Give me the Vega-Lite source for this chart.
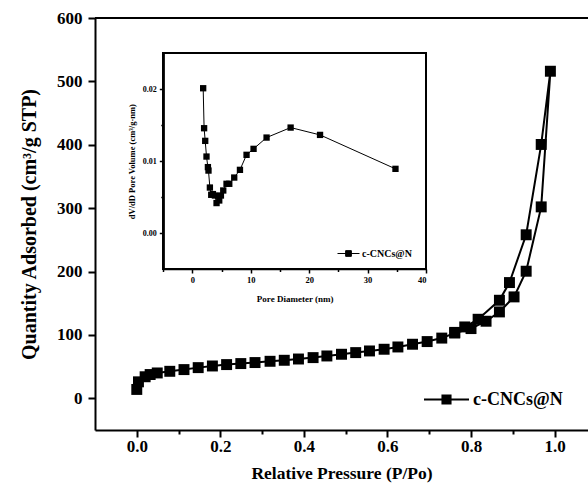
{
  "$schema": "https://vega.github.io/schema/vega-lite/v6.json",
  "width": 493,
  "height": 412,
  "autosize": "none",
  "padding": {"left": 95, "top": 18, "right": 0, "bottom": 58},
  "background": "white",
  "config": {
    "view": {"stroke": null},
    "font": "Liberation Serif",
    "axis": {"labelFont": "Liberation Serif", "titleFont": "Liberation Serif", "labelColor": "black", "titleColor": "black", "domainColor": "black", "tickColor": "black", "grid": false},
    "legend": {"labelFont": "Liberation Serif", "labelColor": "black", "labelFontWeight": "bold", "title": null, "padding": 0}
  },
  "datasets": {
    "isotherm": [
      {"p": 0.0, "q": 14, "order": 1, "sample": "c-CNCs@N"},
      {"p": 0.004, "q": 26, "order": 2, "sample": "c-CNCs@N"},
      {"p": 0.02, "q": 34, "order": 3, "sample": "c-CNCs@N"},
      {"p": 0.032, "q": 37.5, "order": 4, "sample": "c-CNCs@N"},
      {"p": 0.049, "q": 40, "order": 5, "sample": "c-CNCs@N"},
      {"p": 0.079, "q": 42.6, "order": 6, "sample": "c-CNCs@N"},
      {"p": 0.113, "q": 45.3, "order": 7, "sample": "c-CNCs@N"},
      {"p": 0.147, "q": 48.4, "order": 8, "sample": "c-CNCs@N"},
      {"p": 0.181, "q": 51, "order": 9, "sample": "c-CNCs@N"},
      {"p": 0.215, "q": 53.2, "order": 10, "sample": "c-CNCs@N"},
      {"p": 0.249, "q": 54.8, "order": 11, "sample": "c-CNCs@N"},
      {"p": 0.283, "q": 56.4, "order": 12, "sample": "c-CNCs@N"},
      {"p": 0.319, "q": 58.4, "order": 13, "sample": "c-CNCs@N"},
      {"p": 0.353, "q": 60, "order": 14, "sample": "c-CNCs@N"},
      {"p": 0.387, "q": 62, "order": 15, "sample": "c-CNCs@N"},
      {"p": 0.422, "q": 64.2, "order": 16, "sample": "c-CNCs@N"},
      {"p": 0.455, "q": 66.8, "order": 17, "sample": "c-CNCs@N"},
      {"p": 0.49, "q": 69.5, "order": 18, "sample": "c-CNCs@N"},
      {"p": 0.524, "q": 72.1, "order": 19, "sample": "c-CNCs@N"},
      {"p": 0.557, "q": 74.7, "order": 20, "sample": "c-CNCs@N"},
      {"p": 0.592, "q": 77.4, "order": 21, "sample": "c-CNCs@N"},
      {"p": 0.625, "q": 81, "order": 22, "sample": "c-CNCs@N"},
      {"p": 0.66, "q": 85.3, "order": 23, "sample": "c-CNCs@N"},
      {"p": 0.695, "q": 89.5, "order": 24, "sample": "c-CNCs@N"},
      {"p": 0.73, "q": 95, "order": 25, "sample": "c-CNCs@N"},
      {"p": 0.761, "q": 103, "order": 26, "sample": "c-CNCs@N"},
      {"p": 0.8, "q": 110, "order": 27, "sample": "c-CNCs@N"},
      {"p": 0.836, "q": 121.6, "order": 28, "sample": "c-CNCs@N"},
      {"p": 0.868, "q": 136.3, "order": 29, "sample": "c-CNCs@N"},
      {"p": 0.903, "q": 160, "order": 30, "sample": "c-CNCs@N"},
      {"p": 0.932, "q": 200.5, "order": 31, "sample": "c-CNCs@N"},
      {"p": 0.968, "q": 302, "order": 32, "sample": "c-CNCs@N"},
      {"p": 0.99, "q": 516, "order": 33, "sample": "c-CNCs@N"},
      {"p": 0.968, "q": 400.5, "order": 34, "sample": "c-CNCs@N"},
      {"p": 0.932, "q": 258, "order": 35, "sample": "c-CNCs@N"},
      {"p": 0.892, "q": 182.6, "order": 36, "sample": "c-CNCs@N"},
      {"p": 0.868, "q": 154.7, "order": 37, "sample": "c-CNCs@N"},
      {"p": 0.817, "q": 124.7, "order": 38, "sample": "c-CNCs@N"},
      {"p": 0.785, "q": 112.6, "order": 39, "sample": "c-CNCs@N"},
      {"p": 0.761, "q": 104, "order": 40, "sample": "c-CNCs@N"}
    ],
    "psd": [
      {"d": 1.83, "v": 0.02014, "sample": "c-CNCs@N "},
      {"d": 1.99, "v": 0.01458, "sample": "c-CNCs@N "},
      {"d": 2.18, "v": 0.01282, "sample": "c-CNCs@N "},
      {"d": 2.4, "v": 0.01064, "sample": "c-CNCs@N "},
      {"d": 2.64, "v": 0.00917, "sample": "c-CNCs@N "},
      {"d": 2.74, "v": 0.00869, "sample": "c-CNCs@N "},
      {"d": 2.98, "v": 0.00633, "sample": "c-CNCs@N "},
      {"d": 3.21, "v": 0.00532, "sample": "c-CNCs@N "},
      {"d": 3.5, "v": 0.00542, "sample": "c-CNCs@N "},
      {"d": 3.84, "v": 0.00522, "sample": "c-CNCs@N "},
      {"d": 4.12, "v": 0.00417, "sample": "c-CNCs@N "},
      {"d": 4.58, "v": 0.00453, "sample": "c-CNCs@N "},
      {"d": 4.87, "v": 0.00522, "sample": "c-CNCs@N "},
      {"d": 5.27, "v": 0.00592, "sample": "c-CNCs@N "},
      {"d": 5.83, "v": 0.00685, "sample": "c-CNCs@N "},
      {"d": 6.3, "v": 0.00685, "sample": "c-CNCs@N "},
      {"d": 7.15, "v": 0.00772, "sample": "c-CNCs@N "},
      {"d": 8.13, "v": 0.00879, "sample": "c-CNCs@N "},
      {"d": 9.26, "v": 0.01088, "sample": "c-CNCs@N "},
      {"d": 10.46, "v": 0.01171, "sample": "c-CNCs@N "},
      {"d": 12.69, "v": 0.01328, "sample": "c-CNCs@N "},
      {"d": 16.81, "v": 0.01467, "sample": "c-CNCs@N "},
      {"d": 21.85, "v": 0.01365, "sample": "c-CNCs@N "},
      {"d": 34.77, "v": 0.00893, "sample": "c-CNCs@N "}
    ]
  },
  "layer": [
    {
      "data": {"name": "isotherm"},
      "layer": [
        {
          "mark": {"type": "line", "color": "black", "strokeWidth": 2},
          "encoding": {
            "x": {"field": "p", "type": "quantitative",
              "scale": {"domain": [-0.1, 1.08], "nice": false, "zero": false},
              "axis": {"values": [0, 0.1, 0.2, 0.3, 0.4, 0.5, 0.6, 0.7, 0.8, 0.9, 1.0],
                "labelExpr": "round(datum.value*10)%2==0 ? format(datum.value,'.1f') : ''",
                "tickSize": {"condition": {"test": "round(datum.value*10)%2==0", "value": 7}, "value": 4},
                "tickWidth": 2, "domainWidth": 2, "labelFontSize": 17, "labelFontWeight": "bold", "labelPadding": 1,
                "title": "Relative Pressure (P/Po)", "titleFontSize": 17.5, "titleFontWeight": "bold", "titlePadding": 10}},
            "y": {"field": "q", "type": "quantitative",
              "scale": {"domain": [-50, 600], "nice": false, "zero": false},
              "axis": {"values": [0, 50, 100, 150, 200, 250, 300, 350, 400, 450, 500, 550, 600],
                "labelExpr": "datum.value%100==0 ? datum.label : ''",
                "tickSize": {"condition": {"test": "datum.value%100==0", "value": 7}, "value": 4},
                "tickWidth": 2, "domainWidth": 2, "labelFontSize": 17, "labelFontWeight": "bold", "labelPadding": 6,
                "title": "Quantity Adsorbed (cm³/g STP)", "titleFontSize": 20, "titleFontWeight": "bold", "titlePadding": 17}},
            "order": {"field": "order", "type": "quantitative"}
          }
        },
        {
          "mark": {"type": "point", "shape": "square", "filled": true, "size": 120, "opacity": 1},
          "encoding": {
            "x": {"field": "p", "type": "quantitative"},
            "y": {"field": "q", "type": "quantitative"},
            "color": {"field": "sample", "type": "nominal", "scale": {"range": ["black"]},
              "legend": {"orient": "none", "legendX": 328, "legendY": 358, "symbolType": "M-1,0H1M-0.18,-0.18H0.18V0.18H-0.18Z", "symbolSize": 2025, "symbolStrokeColor": "black", "symbolFillColor": "black", "symbolStrokeWidth": 2, "labelFontSize": 18, "labelOffset": 3}}
          }
        },
        {
          "mark": {"type": "rule", "color": "black", "strokeWidth": 2},
          "encoding": {"x": {"datum": -0.1}, "x2": {"datum": 1.08}, "y": {"datum": 600}}
        }
      ]
    },
    {
      "data": {"name": "psd"},
      "layer": [
        {
          "mark": {"type": "rect", "fill": null, "stroke": "black", "strokeWidth": 1.5},
          "encoding": {"x": {"datum": -5}, "x2": {"datum": 40}, "y": {"datum": -0.005}, "y2": {"datum": 0.025}}
        },
        {
          "mark": {"type": "line", "color": "black", "strokeWidth": 1},
          "encoding": {
            "x": {"field": "d", "type": "quantitative",
              "scale": {"domain": [-5, 40], "nice": false, "zero": false, "range": [68.3, 331]},
              "axis": {"orient": "bottom", "offset": -161, "values": [-5, 0, 5, 10, 15, 20, 25, 30, 35, 40],
                "labelExpr": "datum.value%10==0 ? datum.label : ''",
                "tickSize": {"condition": {"test": "datum.value%10==0", "value": 4}, "value": 2.5},
                "tickWidth": 1.5, "domainWidth": 1.5, "labelFontSize": 8.5, "labelFontWeight": "bold", "labelPadding": 2,
                "title": "Pore Diameter (nm)", "titleFontSize": 9, "titleFontWeight": "bold", "titlePadding": 11}},
            "y": {"field": "v", "type": "quantitative",
              "scale": {"domain": [-0.005, 0.025], "nice": false, "zero": false, "range": [251, 35.3]},
              "axis": {"orient": "left", "offset": -68.3, "values": [0, 0.005, 0.01, 0.015, 0.02],
                "labelExpr": "round(datum.value*1000)%10==0 ? format(datum.value,'.2f') : ''",
                "tickSize": {"condition": {"test": "round(datum.value*1000)%10==0", "value": 4}, "value": 2.5},
                "tickWidth": 1.5, "domainWidth": 1.5, "labelFontSize": 8, "labelFontWeight": "bold", "labelPadding": 3,
                "title": "dV/dD Pore Volume (cm³/g·nm)", "titleFontSize": 8.5, "titleFontWeight": "bold", "titlePadding": 6}}
          }
        },
        {
          "mark": {"type": "point", "shape": "square", "filled": true, "size": 40, "opacity": 1},
          "encoding": {
            "x": {"field": "d", "type": "quantitative"},
            "y": {"field": "v", "type": "quantitative"},
            "color": {"field": "sample", "type": "nominal", "scale": {"range": ["black"]},
              "legend": {"orient": "none", "legendX": 242, "legendY": 224, "symbolType": "M-1,0H1M-0.26,-0.26H0.26V0.26H-0.26Z", "symbolSize": 484, "symbolStrokeColor": "black", "symbolFillColor": "black", "symbolStrokeWidth": 1, "labelFontSize": 10, "labelOffset": 2}}
          }
        }
      ]
    }
  ],
  "resolve": {"scale": {"x": "independent", "y": "independent", "color": "independent"}}
}
